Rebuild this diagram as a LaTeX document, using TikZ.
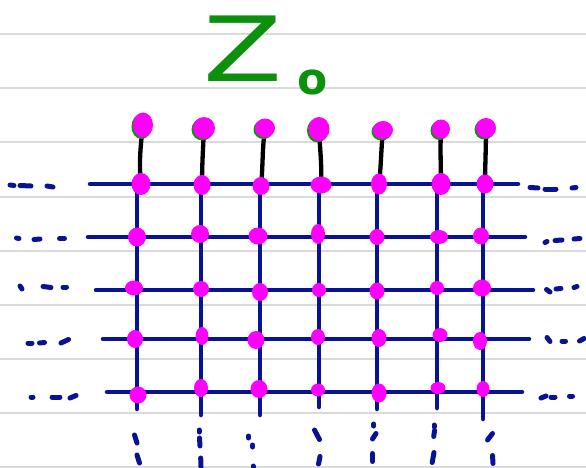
\documentclass[tikz,border=0pt]{standalone}
\usepackage{fontspec}
\newfontfamily\zfont{DejaVu Sans}
\usetikzlibrary{shapes.geometric}
\definecolor{navy}{RGB}{8,18,148}
\definecolor{pinkdot}{RGB}{255,0,255}
\definecolor{zgreen}{RGB}{12,145,12}
\definecolor{paper}{RGB}{218,218,218}
\pgfdeclarelayer{bg}
\pgfdeclarelayer{ink}
\pgfsetlayers{bg,ink,main}
\begin{document}
\begin{tikzpicture}[x=1pt,y=-1pt,
  rule/.style={draw=paper,line width=2.2pt},
  gridline/.style={draw=navy,line width=4.5pt,line cap=round},
  stem/.style={draw=black,line width=4.3pt,line cap=round},
  cont/.style={draw=navy,line width=5pt,line cap=round},
  pdot/.style={ellipse,fill=pinkdot,inner sep=0pt,minimum width=17pt,minimum height=18pt},
  gdot/.style={ellipse,fill=zgreen,inner sep=0pt,minimum width=18pt,minimum height=19pt},
  title/.style={text=zgreen,inner sep=0pt}]
\useasboundingbox (0,0) rectangle (586,468);

% ---------- title ----------
\node[title,font=\zfont\fontsize{90}{90}\selectfont,anchor=base west] (zed) at (203,82) {\scalebox{1.28}[1]{Z}};
\node[title,font=\zfont\bfseries\fontsize{44}{44}\selectfont,anchor=base] (sub) at (313,95) {o};

% ---------- top dots ----------
\foreach \n/\x/\y/\w/\h in {1/143/125/20/25, 2/204/128/22/22, 3/265/128/20/19,
    4/319/129/21/24, 5/383/130/20/18, 6/441/129/18/19, 7/486/128/20/20}{
  \node[gdot,minimum width=\w pt,minimum height=\h pt] (g\n) at (\x-1.5,\y+1.5) {};
  \node[pdot,minimum width=\w pt,minimum height=\h pt] (t\n) at (\x,\y) {};
}

% ---------- grid dots ----------
\foreach \n/\x/\y/\w/\h in {
  1-1/141/184/19/22, 1-2/202/185/17/20, 1-3/261/186/17/18, 1-4/321/185/21/17,
  1-5/379/184/16/21, 1-6/441/184/19/22, 1-7/485/184/17/19,
  2-1/137/237/18/19, 2-2/200/234/18/18, 2-3/258/236/19/17, 2-4/318/234/14/20,
  2-5/377/237/15/16, 2-6/439/237/18/14, 2-7/481/236/16/17,
  3-1/134/288/18/15, 3-2/201/289/16/16, 3-3/260/292/16/18, 3-4/319/290/14/14,
  3-5/377/291/15/17, 3-6/437/288/14/14, 3-7/482/288/18/17,
  4-1/135/339/16/18, 4-2/202/336/13/18, 4-3/256/340/17/18, 4-4/318/337/14/16,
  4-5/379/338/15/18, 4-6/440/335/15/14, 4-7/480/341/14/18,
  5-1/138/395/17/17, 5-2/201/388/14/18, 5-3/259/389/17/18, 5-4/318/390/14/13,
  5-5/379/393/15/19, 5-6/438/388/15/12, 5-7/483/389/13/16}{
  \node[pdot,minimum width=\w pt,minimum height=\h pt] (d\n) at (\x,\y) {};
}

% ---------- grid line end points ----------
\foreach \r/\y/\xl/\xr in {1/184/90/518, 2/237/88/525, 3/290/96/533, 4/339/103/529, 5/392/107/522}{
  \coordinate (hl\r) at (\xl,\y);
  \coordinate (hr\r) at (\xr,\y);
}
\foreach \c/\x/\yb in {1/137/409, 2/201/415, 3/260/415, 4/319/407, 5/377/409, 6/437/408, 7/483/419}{
  \coordinate (vt\c) at (\x,184);
  \coordinate (vb\c) at (\x,\yb);
}

\begin{pgfonlayer}{bg}
  \fill[white] (0,0) rectangle (586,468);
  \foreach \y in {34,88,142,197,251,305,359,413,467}{
    \draw[rule] (0,\y) -- (586,\y);
  }
\end{pgfonlayer}

\begin{pgfonlayer}{ink}
  \foreach \r in {1,...,5}{ \draw[gridline] (hl\r) -- (hr\r); }
  \foreach \c in {1,...,7}{ \draw[gridline] (vt\c) -- (vb\c); }
  % stems
  \draw[stem] (t1.center) .. controls (140,150) and (139,165) .. (d1-1.center);
  \draw[stem] (t2.center) .. controls (203,150) and (202,165) .. (d1-2.center);
  \draw[stem] (t3.center) .. controls (262,150) and (263,168) .. (d1-3.center);
  \draw[stem] (t4.center) .. controls (320,150) and (322,165) .. (d1-4.center);
  \draw[stem] (t5.center) .. controls (381,150) and (381,168) .. (d1-5.center);
  \draw[stem] (t6.center) .. controls (440,150) and (441,168) .. (d1-6.center);
  \draw[stem] (t7.center) .. controls (486,150) and (485,168) .. (d1-7.center);
  % continuation marks, left
  \foreach \a/\b/\c/\d in {
    10/185/14/185.5, 20/185.5/31/186, 47/186/53/187,
    16.5/238/19/238.5, 34/239.5/40/239, 59.5/238.5/64.5/238.5,
    20/286/22/289, 43/286.5/51/287.5, 63/287/66.5/287,
    28/343/32/343, 39.5/343/44.5/342.5, 61/343/68.5/339.5,
    31/397/33/397, 52/397/60/397, 70/398/76/395.5}{
    \draw[cont] (\a,\b) -- (\c,\d);
  }
  % continuation marks, right
  \foreach \a/\b/\c/\d in {
    530/187.5/538/188, 545/189/556/189, 572/188/576/187.5,
    545/242.5/547/241.5, 555/240.5/562/240, 574/239/580/238.5,
    546.5/289.5/550/292, 556/289/561/288.5, 574/287.5/577/286.5,
    547/337.5/550/341.5, 562/341/565.5/341, 579.5/341/584/338.5,
    541/398/546/396, 551/397/555/397, 569.5/396/572.5/396}{
    \draw[cont] (\a,\b) -- (\c,\d);
  }
  % continuation marks, bottom
  \foreach \a/\b/\c/\d in {
    134.5/435/137/443, 137/455/139.5/463,
    199/430/199/432, 199.5/438/200/446, 200.7/458/201/467,
    248.5/436/248.5/438, 252.6/445/252.6/447, 253/466/253/470,
    314.5/430/319.5/439.5, 320/456.5/318.5/464,
    373.7/424/373.7/426, 376/433.5/372.5/439, 372.5/453.5/372.5/461.5,
    434/425/434/427, 434.6/430.5/433.7/436.5, 434/452.5/432.2/462.5,
    492.5/433.5/487.5/440, 492.5/455.5/493/463.5}{
    \draw[cont] (\a,\b) -- (\c,\d);
  }
\end{pgfonlayer}
\end{tikzpicture}
\end{document}
